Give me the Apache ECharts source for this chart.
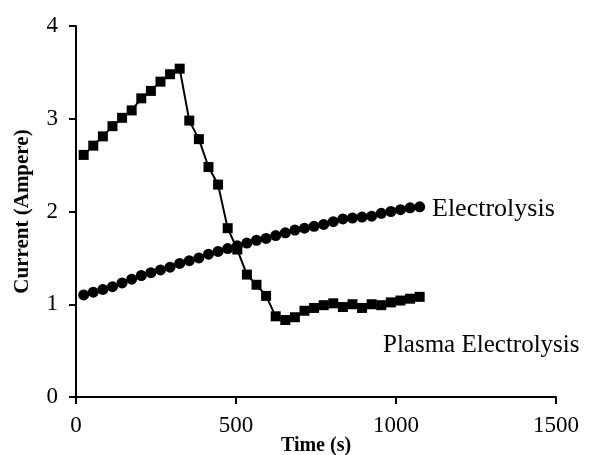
<!DOCTYPE html>
<html>
<head>
<meta charset="utf-8">
<script src="https://cdn.jsdelivr.net/npm/echarts@6/dist/echarts.min.js"></script>
<style>
  html, body { margin: 0; padding: 0; background: #fff; }
  #main { width: 595px; height: 455px; }
</style>
</head>
<body>
<div id="main"></div>
<script>
// sampling times (s), one reading every 30 s
var time = [24, 54, 84, 114, 144, 174, 204, 234, 264, 294, 324, 354,
  384, 414, 444, 474, 504, 534, 564, 594, 624, 654, 684, 714,
  744, 774, 804, 834, 864, 894, 924, 954, 984, 1014, 1044, 1074];

// plasma electrolysis current (A)
var plasmaCurrent = [2.61, 2.71, 2.81, 2.92, 3.01, 3.09, 3.22, 3.30, 3.40, 3.48, 3.54, 2.98,
  2.78, 2.48, 2.29, 1.82, 1.59, 1.32, 1.21, 1.09, 0.87, 0.83, 0.86, 0.93,
  0.96, 0.99, 1.01, 0.97, 1.00, 0.96, 1.00, 0.99, 1.02, 1.04, 1.06, 1.08];

// conventional electrolysis current (A)
var electrolysisCurrent = [1.10, 1.13, 1.16, 1.19, 1.23, 1.27, 1.31, 1.34, 1.37, 1.40, 1.44, 1.47,
  1.50, 1.54, 1.57, 1.60, 1.63, 1.66, 1.69, 1.71, 1.74, 1.77, 1.80, 1.82,
  1.84, 1.86, 1.89, 1.92, 1.93, 1.94, 1.95, 1.98, 2.00, 2.02, 2.04, 2.05];

var seriesNames = ['Plasma Electrolysis', 'Electrolysis'];

function pairs(xs, ys) {
  var out = [];
  for (var i = 0; i < xs.length; i++) {
    out.push([xs[i], ys[i]]);
  }
  return out;
}

var chartDom = document.getElementById('main');
var myChart = echarts.init(chartDom);
var font = 'Liberation Serif';

var option = {
  animation: false,
  backgroundColor: '#fff',
  grid: {
    left: 76,
    right: 39,
    top: 26,
    bottom: 58,
    outerBoundsMode: 'none',
    containLabel: false
  },
  xAxis: {
    type: 'value',
    min: 0,
    max: 1500,
    interval: 500,
    name: 'Time (s)',
    nameLocation: 'middle',
    nameGap: 39,
    nameMoveOverlap: false,
    nameTextStyle: { fontFamily: font, fontWeight: 'bold', fontSize: 20, color: '#000' },
    axisLine: { show: true, lineStyle: { color: '#000', width: 2 } },
    axisTick: { show: true, length: 7, lineStyle: { color: '#000', width: 2 } },
    axisLabel: {
      fontFamily: font, fontSize: 23, color: '#000', margin: 17,
      formatter: function (v) { return String(v); }
    },
    splitLine: { show: false }
  },
  yAxis: {
    type: 'value',
    min: 0,
    max: 4,
    interval: 1,
    name: 'Current (Ampere)',
    nameLocation: 'middle',
    nameGap: 43,
    nameRotate: 90,
    nameMoveOverlap: false,
    nameTextStyle: { fontFamily: font, fontWeight: 'bold', fontSize: 21, color: '#000' },
    axisLine: { show: true, lineStyle: { color: '#000', width: 2 } },
    axisTick: { show: true, length: 7, lineStyle: { color: '#000', width: 2 } },
    axisLabel: { fontFamily: font, fontSize: 23, color: '#000', margin: 18 },
    splitLine: { show: false }
  },
  graphic: [
    {
      type: 'text',
      left: 432,
      top: 196,
      style: { text: seriesNames[1], font: '26px "Liberation Serif"', fill: '#000' }
    },
    {
      type: 'text',
      left: 383,
      top: 333,
      style: { text: seriesNames[0], font: '25px "Liberation Serif"', fill: '#000' }
    }
  ],
  series: [
    {
      name: seriesNames[0],
      type: 'line',
      data: pairs(time, plasmaCurrent),
      symbol: 'rect',
      symbolSize: 10,
      showAllSymbol: true,
      lineStyle: { color: '#000', width: 2 },
      itemStyle: { color: '#000' }
    },
    {
      name: seriesNames[1],
      type: 'line',
      data: pairs(time, electrolysisCurrent),
      symbol: 'circle',
      symbolSize: 11,
      showAllSymbol: true,
      lineStyle: { color: '#000', width: 2 },
      itemStyle: { color: '#000' }
    }
  ]
};

option && myChart.setOption(option);
</script>
</body>
</html>
